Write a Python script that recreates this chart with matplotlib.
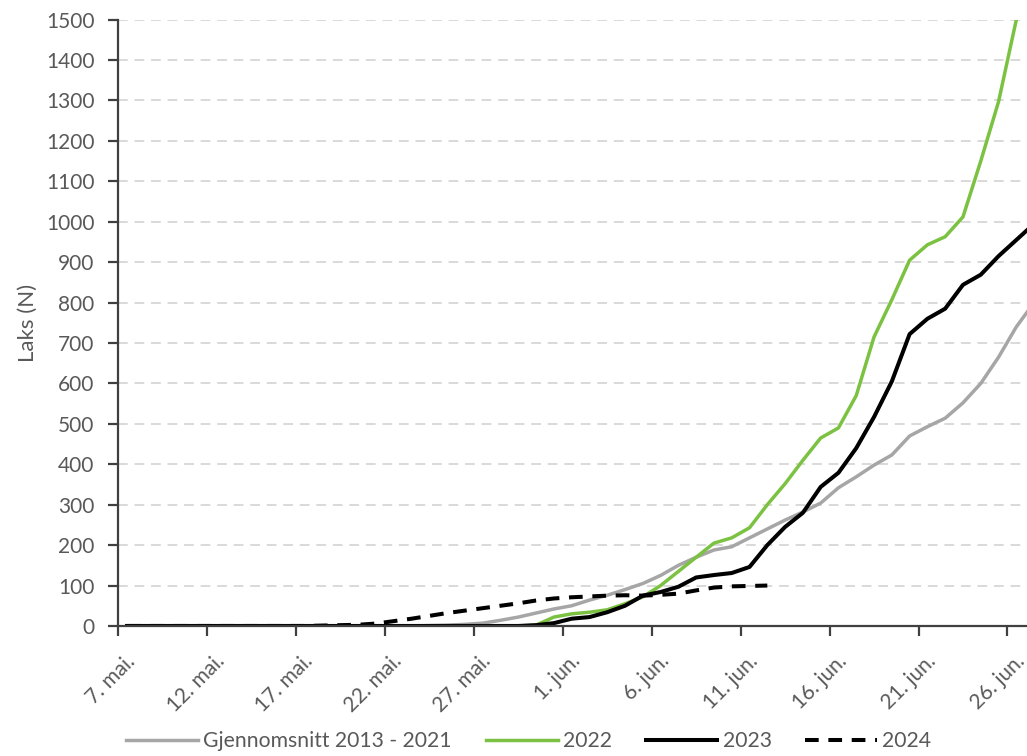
import numpy as np
import matplotlib.pyplot as plt
import matplotlib.transforms as mtransforms

plt.rcParams['font.family'] = ['Lato', 'DejaVu Sans']

# day index 0 = 7. mai
days = np.arange(52)

tick_days = [0, 5, 10, 15, 20, 25, 30, 35, 40, 45, 50]
tick_labels = ["7. mai.", "12. mai.", "17. mai.", "22. mai.", "27. mai.",
               "1. jun.", "6. jun.", "11. jun.", "16. jun.", "21. jun.", "26. jun."]

avg_2013_2021 = [0] * 17 + [1, 2, 4, 7, 14, 22, 32, 42, 50,
                            64, 76, 90, 105, 125, 150, 170, 188, 196, 218,
                            240, 262, 282, 304, 342, 369, 398, 423, 470, 493,
                            514, 552, 600, 665, 740, 800]

y2022 = [0] * 23 + [2, 22, 30, 34, 40, 55, 72, 100, 135, 170, 205, 218, 243,
                    300, 352, 410, 465, 490, 570, 715, 807, 905, 943,
                    963, 1012, 1150, 1297, 1500, 1700]

y2023 = [0] * 23 + [2, 7, 18, 22, 34, 50, 75, 84, 97, 120, 126, 131, 146,
                    200, 245, 280, 344, 379, 440, 517, 605, 722, 760,
                    785, 844, 869, 915, 955, 995]

y2024 = [0] * 11 + [1, 2, 3, 6, 12, 18, 25, 32, 38, 44, 50, 56, 63, 68, 71,
                    73, 75, 76, 75, 77, 80, 88, 95, 98, 99, 100] + [np.nan] * 15

fig = plt.figure(figsize=(10.27, 7.56), dpi=100)
ax = fig.add_axes([0.115, 0.172, 0.885, 0.802])

# points sit in the middle of each day
x = days + 0.5
ax.plot(x, avg_2013_2021, color="#a6a6a6", lw=2.5, label="Gjennomsnitt 2013 - 2021")
ax.plot(x, y2022, color="#7cc242", lw=2.5, label="2022")
ax.plot(x, y2023, color="black", lw=2.9, label="2023")
ax.plot(x, y2024, color="black", lw=2.9, ls=(0, (3.4, 2.4)), label="2024")

ax.set_xlim(0, 51.1)
ax.set_ylim(0, 1500)
ax.set_yticks(np.arange(0, 1501, 100))
ax.set_xticks(tick_days)
ax.set_xticklabels(tick_labels, rotation=45, ha="right", rotation_mode="anchor")

ax.grid(axis="y", color="#d9d9d9", ls=(0, (5, 3.5)), lw=1.4)
ax.set_axisbelow(True)
for s in ["top", "right"]:
    ax.spines[s].set_visible(False)
for s in ["left", "bottom"]:
    ax.spines[s].set_color("#404040")
    ax.spines[s].set_linewidth(1.6)
ax.tick_params(axis="both", colors="#404040", labelcolor="#595959",
               labelsize=15, length=7, width=1.6)
ax.tick_params(axis="y", pad=10)
ax.tick_params(axis="x", pad=11)

# shift rotated date labels a little to the right, like the original
offset = mtransforms.ScaledTranslation(0.07, 0, fig.dpi_scale_trans)
for lab in ax.get_xticklabels():
    lab.set_transform(lab.get_transform() + offset)

ax.set_ylabel("Laks (N)", color="#595959", fontsize=16, labelpad=6)

ax.legend(loc="center", bbox_to_anchor=(0.452, -0.19), ncol=4, frameon=False,
          fontsize=15.2, handlelength=3.4, handletextpad=0.25, columnspacing=1.6,
          labelcolor="#595959")

fig.savefig("out.png", dpi=100)
